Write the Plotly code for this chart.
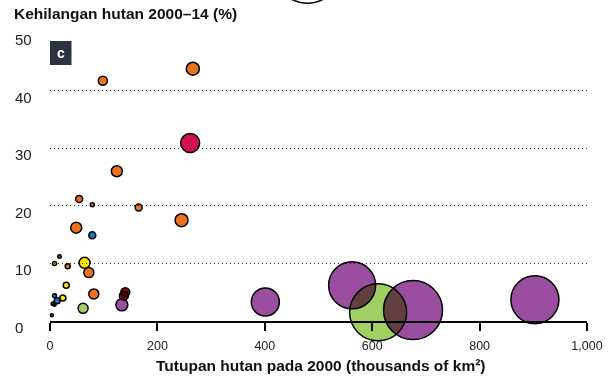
import plotly.graph_objects as go

# Forest cover in 2000 (thousands of km²), forest loss 2000–14 (%), bubble magnitude, group
cover = [98.4, 266, 261, 124.5, 54.3, 78.7, 165, 245, 48.8, 78.7,
         17.7, 8.5, 64.3, 33, 72.3, 30.2, 81.5, 140.2, 137.6, 133.8,
         61.6, 23.9, 13.4, 8.4, 5.4, 8.5, 3.4,
         401, 562.6, 611, 676, 903]
loss = [41.7, 43.8, 30.9, 26.0, 21.2, 20.2, 19.7, 17.5, 16.2, 14.9,
        11.2, 10.0, 10.1, 9.5, 8.4, 6.2, 4.7, 5.0, 4.4, 2.8,
        2.2, 4.0, 3.5, 4.4, 3.0, 2.8, 1.0,
        3.3, 6.2, 1.5, 1.9, 3.7]
magnitude = [9, 13, 19, 11, 7, 4, 7, 13, 11, 7,
             3.5, 4, 11, 5, 10, 6, 10, 9, 9, 12,
             10, 6, 6, 4, 3.5, 3, 3,
             28, 47, 57, 59, 48]
group = ["or", "or", "cr", "or", "or", "or", "or", "or", "or", "bl",
         "br", "ye", "ye", "or", "or", "ye", "or", "dr", "dr", "pu",
         "gr", "ye", "bl", "bl", "br", "ye", "cr",
         "pu", "pu", "gr", "pu", "pu"]

x_ticks = [0, 200, 400, 600, 800, 1000]
x_tick_text = ["0", "200", "400", "600", "800", "1,000"]
y_ticks = [0, 10, 20, 30, 40, 50]
y_tick_text = ["0", "10", "20", "30", "40", "50"]

palette = {
    "or": "#E8721E",
    "cr": "#D3124B",
    "bl": "#0F7DC2",
    "ye": "#FFE400",
    "gr": "#A0D064",
    "pu": "#9B4EA0",
    "dr": "#8C0C0C",
    "br": "#8B5A2B",
}

FONT = "Liberation Sans, Arial, Helvetica, sans-serif"
W, H = 614, 378
L, R, T, B = 50, 27, 33, 57
PW, PH = W - L - R, H - T - B


def px_x(p):
    return (p - L) / PW


def px_y(p):
    return (H - B - p) / PH


fig = go.Figure()
fig.add_trace(go.Scatter(
    x=cover, y=loss, mode="markers",
    marker=dict(size=magnitude, sizemode="diameter",
                color=[palette[g] for g in group], opacity=1,
                line=dict(color="#000000", width=1.5)),
    cliponaxis=False, hoverinfo="skip", showlegend=False,
))

# y tick labels, left aligned
for v, t in zip(y_ticks, y_tick_text):
    fig.add_annotation(x=px_x(13), xref="paper", y=v, yref="y",
                       text=t, showarrow=False, xanchor="left",
                       yanchor="middle", yshift=-6.5,
                       font=dict(family=FONT, size=15, color="#222"))

# y axis title
fig.add_annotation(x=px_x(12), xref="paper", y=px_y(13), yref="paper",
                   text="Kehilangan hutan 2000–14 (%)", showarrow=False,
                   xanchor="left", yanchor="middle",
                   font=dict(family=FONT, size=15.5, color="#111", weight="bold"))

# x axis title
fig.add_annotation(x=px_x(321), xref="paper", y=px_y(365), yref="paper",
                   text="Tutupan hutan pada 2000 (thousands of km²)",
                   showarrow=False, xanchor="center", yanchor="middle",
                   font=dict(family=FONT, size=15.5, color="#111", weight="bold"))

# panel label
fig.add_shape(type="rect", xref="paper", yref="paper",
              x0=px_x(50), x1=px_x(71.5), y0=px_y(65), y1=px_y(41),
              fillcolor="#2E3140", line=dict(width=0), layer="above")
fig.add_annotation(x=px_x(60.8), xref="paper", y=px_y(53), yref="paper",
                   text="c", showarrow=False, xanchor="center", yanchor="middle",
                   font=dict(family=FONT, size=14, color="white", weight="bold"))

# lower rim of the size key circle sitting above the panel
arc = "M {:.4f},{:.4f} Q {:.4f},{:.4f} {:.4f},{:.4f}".format(
    px_x(291), px_y(-1), px_x(307.5), px_y(7.6), px_x(324), px_y(-1))
fig.add_shape(type="path", xref="paper", yref="paper", path=arc,
              line=dict(color="#000", width=1.5))

fig.update_xaxes(range=[0, 1000], tickvals=x_ticks, ticktext=x_tick_text,
                 showgrid=False, zeroline=False, showline=True,
                 linecolor="#000", linewidth=1.5, ticks="outside",
                 ticklen=8, tickwidth=1.5, tickcolor="#000",
                 ticklabelstandoff=4,
                 tickfont=dict(family=FONT, size=12.5, color="#222"))
fig.update_yaxes(range=[0, 50], tickvals=y_ticks[1:], showticklabels=False,
                 showgrid=True, gridcolor="#333", gridwidth=1,
                 griddash="1px,3px", zeroline=False, showline=False)

fig.update_layout(width=W, height=H,
                  margin=dict(l=L, r=R, t=T, b=B, pad=0),
                  paper_bgcolor="white", plot_bgcolor="white",
                  font=dict(family=FONT))

blend_js = """
var gd = document.getElementById('{plot_id}');
function blend() {
  gd.querySelectorAll('.scatterlayer .point').forEach(function (p) {
    p.style.mixBlendMode = 'multiply';
  });
}
blend();
gd.on('plotly_afterplot', blend);
"""

fig.write_html("out.html", post_script=blend_js)
